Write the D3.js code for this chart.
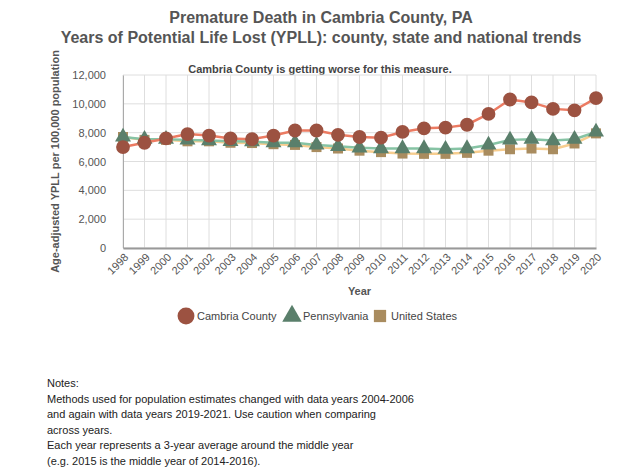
<!DOCTYPE html>
<html>
<head>
<meta charset="utf-8">
<script src="https://cdn.jsdelivr.net/npm/d3@7"></script>
<style>
  body { margin: 0; background: #fff; font-family: "Liberation Sans", Arial, sans-serif; }
  svg text { font-family: "Liberation Sans", Arial, sans-serif; }
</style>
</head>
<body>
<svg id="chart" width="640" height="470"></svg>
<script>
// data
var years = [1998,1999,2000,2001,2002,2003,2004,2005,2006,2007,2008,2009,2010,2011,2012,2013,2014,2015,2016,2017,2018,2019,2020];
var cambria = [7000,7300,7600,7900,7800,7600,7550,7800,8150,8150,7850,7700,7650,8050,8300,8350,8550,9300,10300,10100,9650,9550,10400];
var pennsylvania = [7700,7550,7550,7500,7450,7400,7380,7300,7300,7150,7050,6950,6900,6900,6900,6850,6900,7150,7500,7550,7450,7550,8050];
var unitedStates = [7700,7500,7500,7400,7400,7300,7280,7200,7150,7000,6900,6750,6650,6550,6530,6530,6600,6750,6850,6900,6850,7250,7950];
var yTicks = [0,2000,4000,6000,8000,10000,12000];

var series = [
  {name: "Cambria County", values: cambria, line: "#ec7b62", mark: "#9c5241", shape: d3.symbolCircle, size: 150},
  {name: "Pennsylvania", values: pennsylvania, line: "#86c3a4", mark: "#5a7f6b", shape: d3.symbolTriangle, size: 110},
  {name: "United States", values: unitedStates, line: "#f7cd8f", mark: "#a98c5f", shape: d3.symbolSquare, size: 100}
];

var svg = d3.select("#chart");
var margin = {left: 123, right: 44, top: 75, bottom: 222};
var W = 640, H = 470;

var x = d3.scaleLinear().domain([1998, 2020]).range([margin.left, W - margin.right]);
var y = d3.scaleLinear().domain([0, 12000]).range([H - margin.bottom, margin.top]);

// titles
svg.append("text").attr("x", 321).attr("y", 23).attr("text-anchor", "middle")
  .attr("font-size", 16).attr("font-weight", "bold").attr("fill", "#555").text("Premature Death in Cambria County, PA");
svg.append("text").attr("x", 321).attr("y", 43).attr("text-anchor", "middle")
  .attr("font-size", 16).attr("font-weight", "bold").attr("fill", "#555").text("Years of Potential Life Lost (YPLL): county, state and national trends");
svg.append("text").attr("x", 320).attr("y", 73).attr("text-anchor", "middle")
  .attr("font-size", 11).attr("font-weight", "bold").attr("fill", "#444").text("Cambria County is getting worse for this measure.");

// grid
var grid = svg.append("g");
grid.selectAll("line.h").data(yTicks).enter().append("line")
  .attr("x1", margin.left).attr("x2", W - margin.right)
  .attr("y1", function(d) { return y(d); }).attr("y2", function(d) { return y(d); })
  .attr("stroke", "#dedede");
grid.selectAll("line.v").data(years).enter().append("line")
  .attr("y1", y(0)).attr("y2", y(12000))
  .attr("x1", function(d) { return x(d); }).attr("x2", function(d) { return x(d); })
  .attr("stroke", "#dedede");

// y axis
var yAxis = svg.append("g").attr("transform", "translate(" + margin.left + ",0)")
  .call(d3.axisLeft(y).tickValues(yTicks).tickSize(0).tickPadding(17).tickFormat(d3.format(",")));
yAxis.select(".domain").attr("stroke", "#aaa");
yAxis.selectAll("text").attr("font-size", 11).attr("fill", "#555");

// x axis
var xAxis = svg.append("g").attr("transform", "translate(0," + y(0) + ")")
  .call(d3.axisBottom(x).tickValues(years).tickSize(0).tickFormat(d3.format("d")));
xAxis.select(".domain").attr("stroke", "#999").attr("stroke-width", 2);
xAxis.selectAll("text").attr("font-size", 11).attr("fill", "#555")
  .attr("text-anchor", "end").attr("x", -3).attr("y", 11).attr("dy", 0)
  .attr("transform", "rotate(-45)");

// axis titles
svg.append("text").attr("transform", "translate(59," + ((y(0) + y(12000)) / 2) + ") rotate(-90)")
  .attr("text-anchor", "middle").attr("font-size", 11).attr("font-weight", "bold").attr("fill", "#555")
  .text("Age-adjusted YPLL per 100,000 population");
svg.append("text").attr("x", (x(1998) + x(2020)) / 2).attr("y", 295).attr("text-anchor", "middle")
  .attr("font-size", 11).attr("font-weight", "bold").attr("fill", "#555").text("Year");

// lines and markers (draw US first so county is on top)
var line = d3.line().x(function(d, i) { return x(years[i]); }).y(function(d) { return y(d); });
series.slice().reverse().forEach(function(s) {
  svg.append("path").datum(s.values).attr("fill", "none").attr("stroke", s.line)
    .attr("stroke-width", 2.5).attr("d", line);
});
series.slice().reverse().forEach(function(s) {
  svg.selectAll(null).data(s.values).enter().append("path")
    .attr("d", d3.symbol().type(s.shape).size(s.size))
    .attr("transform", function(d, i) { return "translate(" + x(years[i]) + "," + y(d) + ")"; })
    .attr("fill", s.mark);
});

// legend
var legendX = [186, 292, 380];
var legend = svg.selectAll("g.legend").data(series).enter().append("g")
  .attr("transform", function(d, i) { return "translate(" + legendX[i] + ",316)"; });
legend.append("path").attr("d", function(d) { return d3.symbol().type(d.shape).size(d.size * 1.5)(); })
  .attr("fill", function(d) { return d.mark; });
legend.append("text").attr("x", 11).attr("y", 4).attr("font-size", 11).attr("fill", "#444")
  .text(function(d) { return d.name; });

// notes
var notes = ["Notes:",
  "Methods used for population estimates changed with data years 2004-2006",
  "and again with data years 2019-2021. Use caution when comparing",
  "across years.",
  "Each year represents a 3-year average around the middle year",
  "(e.g. 2015 is the middle year of 2014-2016)."];
svg.selectAll("text.note").data(notes).enter().append("text")
  .attr("x", 47).attr("y", function(d, i) { return 387 + i * 15.6; })
  .attr("font-size", 11).attr("fill", "#222").text(function(d) { return d; });
</script>
</body>
</html>
